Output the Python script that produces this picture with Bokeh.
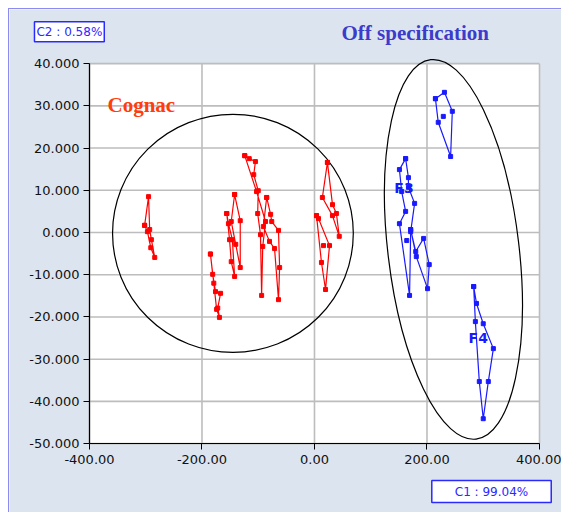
from bokeh.plotting import figure
from bokeh.models import Range1d, FixedTicker, PrintfTickFormatter, Label
from bokeh.embed import file_html
from bokeh.resources import INLINE

# ---- data ----
x_ticks = [-400, -200, 0, 200, 400]
y_ticks = [-50, -40, -30, -20, -10, 0, 10, 20, 30, 40]

cognac_a_x = [-302, -295, -293, -290, -284, -291, -297, -302]
cognac_a_y = [1.7, 8.5, 0.7, -1.7, -5.9, -3.6, 0.2, 1.7]
cognac_b_x = [-185, -181, -176, -167, -172, -169, -174, -179, -185]
cognac_b_y = [-5.1, -9.9, -14.0, -14.4, -17.9, -20.1, -18.2, -12.0, -5.1]
cognac_c1_x = [-156, -151, -148, -142, -146, -153, -156]
cognac_c1_y = [4.5, -1.7, -6.9, -10.4, -1.7, 2.1, 4.5]
cognac_c2_x = [-142, -132, -132, -140, -148, -142]
cognac_c2_y = [9.0, 2.8, -8.3, -2.8, 2.6, 9.0]
cognac_d1_x = [-124, -116, -105, -108, -100, -101, -96, -94, -92, -87, -103, -124]
cognac_d1_y = [18.2, 17.5, 16.8, 13.7, 9.9, 4.5, -0.5, -14.9, -3.3, 2.6, 9.7, 18.2]
cognac_d2_x = [-85, -78, -76, -64, -62, -64, -71, -80, -91, -85]
cognac_d2_y = [8.3, 4.3, 2.6, 0.5, -8.3, -15.9, -3.8, -2.1, 1.4, 8.3]
cognac_e1_x = [23, 14, 32, 44, 39, 32, 23]
cognac_e1_y = [16.6, 8.3, 4.0, -0.9, 4.5, 6.6, 16.6]
cognac_e2_x = [3.6, 7.1, 26.7, 19.6, 12.4, 3.6]
cognac_e2_y = [4.0, 3.3, -3.1, -13.5, -7.1, 4.0]
cognac_dot_x = [16]
cognac_dot_y = [-3.1]

off_f_x = [215, 231, 245, 242, 220, 215]
off_f_y = [31.7, 33.2, 28.7, 18.0, 26.1, 31.7]
off_g1_x = [162, 151, 155, 162, 151, 169, 171, 178, 167, 167, 162]
off_g1_y = [17.5, 14.9, 9.7, 5.0, 2.1, -14.9, 0.2, 6.9, 10.7, 13.0, 17.5]
off_g2_x = [171, 180, 194, 204, 201, 181, 171]
off_g2_y = [0.7, -4.5, -1.4, -7.6, -13.3, -5.7, 0.7]
off_h_x = [283, 288, 300, 318, 309, 300, 293, 286, 283]
off_h_y = [-12.8, -16.8, -21.6, -27.5, -35.3, -44.1, -35.3, -21.1, -12.8]
off_dot_x = [229, 164]
off_dot_y = [27.5, -1.9]

cognac_series = [(cognac_a_x, cognac_a_y), (cognac_b_x, cognac_b_y),
                 (cognac_c1_x, cognac_c1_y), (cognac_c2_x, cognac_c2_y),
                 (cognac_d1_x, cognac_d1_y), (cognac_d2_x, cognac_d2_y),
                 (cognac_e1_x, cognac_e1_y), (cognac_e2_x, cognac_e2_y)]
off_series = [(off_f_x, off_f_y), (off_g1_x, off_g1_y), (off_g2_x, off_g2_y),
              (off_h_x, off_h_y)]

RED = "#ff0000"
BLUE = "#1a1aff"
BG = "#dce5ef"

x_lo, x_hi = min(x_ticks), max(x_ticks)
y_lo, y_hi = min(y_ticks), max(y_ticks)

# frame covers the whole canvas; the plot box sits inside it
p = figure(width=553, height=504, output_backend="svg", toolbar_location=None,
           x_range=Range1d(-542.2, 440.9), y_range=Range1d(-66.55, 52.82),
           min_border=0)
p.background_fill_color = BG
p.border_fill_color = BG
p.outline_line_color = None
p.styles = {"margin-left": "8px", "margin-top": "8px",
            "border-left": "1px solid #8c8cf0", "border-top": "1px solid #8c8cf0"}
p.grid.visible = False

# white plot box and grid lines (from tick lists)
p.quad(left=x_lo, right=x_hi, bottom=y_lo, top=y_hi, fill_color="white", line_color=None)
p.segment(x0=x_ticks, y0=[y_lo] * len(x_ticks), x1=x_ticks, y1=[y_hi] * len(x_ticks),
          line_color="#bdbdbd", line_width=1.6)
p.segment(x0=[x_lo] * len(y_ticks), y0=y_ticks, x1=[x_hi] * len(y_ticks), y1=y_ticks,
          line_color="#bdbdbd", line_width=1.6)

for ax in (p.xaxis, p.yaxis):
    ax.axis_line_color = "black"
    ax.axis_line_width = 1.2
    ax.major_tick_line_color = "black"
    ax.major_tick_out = 6
    ax.major_tick_in = 0
    ax.minor_tick_line_color = None
    ax.major_label_text_font = "DejaVu Sans"
    ax.major_label_text_font_size = "13px"
    ax.major_label_text_color = "#111111"
p.xaxis.ticker = FixedTicker(ticks=x_ticks)
p.yaxis.ticker = FixedTicker(ticks=y_ticks)
p.xaxis.formatter = PrintfTickFormatter(format="%.2f")
p.yaxis.formatter = PrintfTickFormatter(format="%.3f")
p.xaxis.fixed_location = y_lo
p.yaxis.fixed_location = x_lo
p.xaxis.bounds = (x_lo, x_hi)
p.yaxis.bounds = (y_lo, y_hi)
p.yaxis.major_label_standoff = 4
p.xaxis.major_label_standoff = 5

# ellipses
p.ellipse(x=-145, y=-0.2, width=428, height=56.4, fill_color=None,
          line_color="black", line_width=1.2)
p.ellipse(x=247, y=-4.0, width=233, height=90.5, angle=0.119, fill_color=None,
          line_color="black", line_width=1.2)

for xs, ys in cognac_series:
    p.line(xs, ys, line_color=RED, line_width=1.2)
    p.scatter(xs, ys, marker="square", size=4, color=RED)
p.scatter(cognac_dot_x, cognac_dot_y, marker="square", size=4, color=RED)
for xs, ys in off_series:
    p.line(xs, ys, line_color=BLUE, line_width=1.2)
    p.scatter(xs, ys, marker="square", size=4, color=BLUE)
p.scatter(off_dot_x, off_dot_y, marker="square", size=4, color=BLUE)

p.add_layout(Label(x=-368, y=30.3, text="Cognac", text_font="Liberation Serif",
                   text_font_style="bold", text_font_size="21px", text_color="#ff3d0a",
                   text_baseline="alphabetic"))
p.add_layout(Label(x=48, y=47.3, text="Off specification", text_font="Liberation Serif",
                   text_font_style="bold", text_font_size="21px", text_color="#3b3bcc",
                   text_baseline="alphabetic"))
p.add_layout(Label(x=142, y=10.5, text="F3", text_font="DejaVu Sans",
                   text_font_style="bold", text_font_size="14px", text_color=BLUE,
                   text_baseline="alphabetic"))
p.add_layout(Label(x=274, y=-24.9, text="F4", text_font="DejaVu Sans",
                   text_font_style="bold", text_font_size="14px", text_color=BLUE,
                   text_baseline="alphabetic"))
p.add_layout(Label(x=-497.8, y=45.2, text="C2 : 0.58%", text_font="DejaVu Sans",
                   text_font_size="12px", text_color="#2a2aff",
                   background_fill_color="white", border_line_color="#2a2aff",
                   border_line_width=1.5, padding=(2, 3)))
p.add_layout(Label(x=314.7, y=-63.95, text="C1 : 99.04%", text_font="DejaVu Sans",
                   text_font_size="12px", text_color="#2a2aff", text_align="center",
                   background_fill_color="white", border_line_color="#2a2aff",
                   border_line_width=1.5, padding=(23, 4)))

open("out.html", "w").write(file_html(p, INLINE))
